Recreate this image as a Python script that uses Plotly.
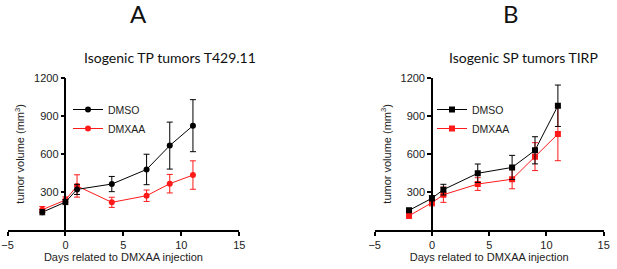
import plotly.graph_objects as go

days = [-2, 0, 1, 4, 7, 9, 11]

# Panel A: Isogenic TP tumors T429.11
a_dmso = [140, 220, 320, 362, 477, 665, 822]
a_dmso_err = [20, 20, 40, 60, 120, 185, 205]
a_dmxaa = [160, 236, 347, 218, 270, 365, 433]
a_dmxaa_err = [25, 25, 88, 40, 45, 73, 112]

# Panel B: Isogenic SP tumors TIRP
b_dmso = [155, 250, 318, 447, 493, 628, 979]
b_dmso_err = [15, 20, 42, 73, 95, 107, 163]
b_dmxaa = [112, 215, 278, 362, 400, 578, 756]
b_dmxaa_err = [20, 25, 60, 50, 75, 110, 210]

panel_letters = ["A", "B"]
panel_titles = ["Isogenic TP tumors T429.11", "Isogenic SP tumors TIRP"]
series_names = ["DMSO", "DMXAA"]
x_ticks = [-5, 0, 5, 10, 15]
y_ticks = [300, 600, 900, 1200]

BLACK = "#000000"
RED = "#ff1a1a"
W, H = 617, 269

doms = [(7.5 / W, 239.3 / W), (374.7 / W, 603.7 / W)]
ydom = ((269 - 230) / H, (269 - 77.7) / H)
xr = [-5, 15]

fig = go.Figure()

panels = [
    (a_dmso, a_dmso_err, a_dmxaa, a_dmxaa_err, "circle"),
    (b_dmso, b_dmso_err, b_dmxaa, b_dmxaa_err, "square"),
]

tick_font = dict(family="Liberation Sans, Arial", size=11, color="#222")
leg_font = dict(family="Liberation Sans, Arial", size=10.5, color="#222")

for i, (d1, e1, d2, e2, sym) in enumerate(panels):
    xa = "x" if i == 0 else "x2"
    ya = "y" if i == 0 else "y2"
    leg = "legend" if i == 0 else "legend2"
    for vals, errs, col, name in [(d2, e2, RED, series_names[1]), (d1, e1, BLACK, series_names[0])]:
        fig.add_trace(go.Scatter(
            x=days, y=vals, name=name, xaxis=xa, yaxis=ya, legend=leg,
            mode="lines+markers",
            line=dict(color=col, width=1),
            marker=dict(symbol=sym, size=6, color=col),
            error_y=dict(type="data", array=errs, visible=True, color=col, thickness=1, width=3),
        ))

    xd = doms[i]
    ypos = xd[0] + (0 - xr[0]) / (xr[1] - xr[0]) * (xd[1] - xd[0])
    suffix = "" if i == 0 else "2"
    fig.layout["xaxis" + suffix] = dict(
        domain=list(xd), range=xr, anchor=ya, tickvals=x_ticks, automargin=False,
        showgrid=False, zeroline=False, showline=True, linecolor="black", linewidth=1.5,
        ticks="outside", ticklen=4, tickwidth=1.5, tickcolor="black", tickfont=tick_font,
        title=dict(text="Days related to DMXAA injection", font=tick_font, standoff=3),
    )
    fig.layout["yaxis" + suffix] = dict(
        domain=list(ydom), range=[0, 1200], anchor="free", position=ypos, automargin=False,
        tickvals=y_ticks, showgrid=False, zeroline=False, showline=True,
        linecolor="black", linewidth=1.5, ticks="outside", ticklen=4, tickwidth=1.5,
        tickcolor="black", tickfont=tick_font,
        title=dict(text="tumor volume (mm<sup>3</sup>)", font=tick_font, standoff=6),
    )

fig.update_layout(
    legend=dict(x=68 / W, y=(H - 95) / H, xanchor="left", yanchor="top",
                bgcolor="rgba(0,0,0,0)", font=leg_font,
                traceorder="reversed", itemwidth=30, tracegroupgap=0),
    legend2=dict(x=432 / W, y=(H - 95) / H, xanchor="left", yanchor="top",
                 bgcolor="rgba(0,0,0,0)", font=leg_font,
                 traceorder="reversed", itemwidth=30, tracegroupgap=0),
)

ann = []
centers_letter = [138 / W, 511 / W]
centers_title = [170 / W, 523 / W]
for i in range(2):
    ann.append(dict(text=panel_letters[i], x=centers_letter[i], y=(H - 14) / H, xref="paper", yref="paper",
                    showarrow=False, xanchor="center", yanchor="middle",
                    font=dict(family="Lato, Open Sans", size=24, color="#111")))
    ann.append(dict(text=panel_titles[i], x=centers_title[i], y=(H - 57) / H, xref="paper", yref="paper",
                    showarrow=False, xanchor="center", yanchor="middle",
                    font=dict(family="Lato, Open Sans", size=14, color="#111")))

fig.update_layout(
    width=W, height=H, margin=dict(l=0, r=0, t=0, b=0),
    paper_bgcolor="white", plot_bgcolor="white",
    annotations=ann, showlegend=True,
)

fig.write_html(
    "out.html",
    config={"displayModeBar": False},
    post_script="document.body.style.margin='0';document.body.style.padding='0';document.body.style.overflow='hidden';",
)
